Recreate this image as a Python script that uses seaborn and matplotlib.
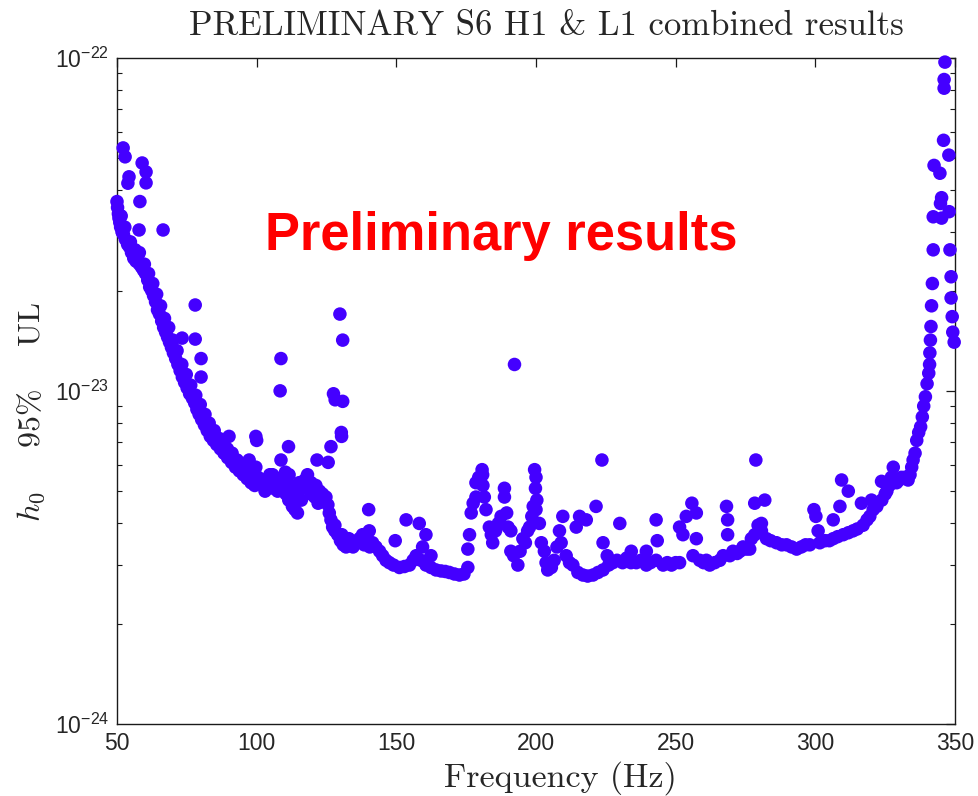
import matplotlib
matplotlib.use("Agg")
import matplotlib.pyplot as plt
import seaborn as sns
import numpy as np
import pandas as pd
from matplotlib.ticker import LogLocator, FixedLocator, NullFormatter

# ---------------- data (frequency in Hz, h0 upper limit in units of 1e-24) ----
band_freq = [
    50.0, 50.2, 50.5, 50.7, 51.0, 51.3, 51.5, 51.8, 52.3, 52.8, 53.0, 53.8, 54.5, 54.8, 55.2,
    56.0, 56.5, 56.8, 57.5, 58.0, 58.0, 58.8, 59.5, 59.8, 60.2, 61.0, 61.3, 61.7, 62.4, 62.8,
    63.1, 63.8, 64.2, 64.5, 65.2, 65.6, 66.0, 66.7, 67.0, 67.4, 68.1, 68.5, 68.8, 69.5, 70.0,
    70.2, 71.0, 71.5, 71.8, 72.6, 73.2, 73.4, 74.2, 74.8, 75.1, 76.0, 76.4, 77.0, 77.8, 78.2,
    78.6, 79.4, 79.8, 80.3, 81.3, 81.5, 82.3, 83.0, 83.4, 84.5, 84.8, 85.7, 86.5, 87.0, 88.0,
    88.3, 89.5, 89.6, 91.0, 91.2, 92.4, 93.0, 93.8, 95.0, 95.2, 96.6, 97.0, 97.3, 98.0, 99.0,
    99.3, 99.7,
    100.5, 101.5, 102.7, 103.0, 103.8, 104.7, 105.7, 106.0, 106.8, 107.5, 108.0, 109.0, 109.2,
    110.3, 110.5, 111.5, 111.6, 112.0, 112.8, 113.0, 113.7, 114.0, 114.6, 115.2, 116.0, 116.5,
    117.2, 118.2, 119.5, 119.5, 120.8, 121.2, 122.0, 122.5, 123.5, 123.6, 124.8, 125.5, 126.0,
    126.6, 127.2, 128.0, 128.0, 129.0, 130.0, 130.5, 131.0, 132.0, 133.0, 133.5, 134.5, 135.5,
    136.8, 137.9, 138.5, 139.0, 140.3, 140.5, 141.5, 142.7, 144.0, 145.1, 146.3, 147.5, 149.0,
    151.1, 152.9, 154.7, 156.0, 157.1, 158.8, 160.6, 162.4, 164.2, 166.0, 167.5, 169.0, 170.8,
    172.6, 174.2, 175.6,
    175.6, 176.2, 176.8, 177.5, 178.5, 178.5, 179.5, 180.7, 180.9, 181.0, 181.5, 182.1, 183.3,
    184.0, 184.5, 185.5, 186.5, 187.5, 188.7, 188.7, 189.5, 190.0, 191.0, 191.0, 192.0, 193.5,
    194.3, 195.3, 196.2, 197.0, 197.7, 198.5, 199.0, 199.5, 200.0, 199.8, 200.3, 200.0, 201.2,
    201.9, 203.0, 203.6, 204.2, 205.5, 206.5, 207.5, 208.4, 209.0, 209.6, 210.8, 212.0, 213.2,
    214.4, 215.6, 215.0, 216.8, 218.0, 218.5, 220.4, 221.5, 222.2, 224.0, 224.0, 225.5, 226.0,
    227.5, 229.0, 230.0, 231.0, 232.5, 234.1, 234.0, 235.9, 237.5, 239.5, 239.5, 241.0, 243.0,
    243.4, 243.0, 245.5, 247.0, 248.5, 250.0, 251.4, 252.6, 251.4, 253.8, 255.8, 257.4, 257.4,
    256.2, 258.6, 260.0, 261.0, 262.2, 264.0, 265.8, 267.0, 268.2, 268.6, 268.6, 269.4, 270.5,
    272.0, 273.0, 274.1, 275.3, 276.5, 277.1, 278.3, 278.3, 279.5, 280.7, 280.7, 281.9, 282.5,
    284.0, 286.1, 288.0, 289.7, 291.5, 293.3, 295.0, 296.5, 298.0, 299.5, 300.2, 301.0, 301.6,
    303.5, 305.0, 306.4, 306.4, 308.0, 308.8, 309.4, 310.0, 311.8, 311.8, 313.5, 315.0, 316.5,
    317.1, 318.5, 319.5, 320.1, 320.7, 322.0, 323.7, 323.8, 325.0, 325.6, 326.5, 327.2, 327.9,
    329.1, 330.0, 330.8, 332.0, 333.2, 333.9, 334.5, 335.0, 335.7, 336.3, 337.0, 337.7, 338.3,
    338.8, 339.4, 340.0, 340.6, 340.9, 341.0, 341.2, 341.4, 341.6, 341.9, 342.2, 342.2,
]
band_h0 = [
    37.0, 35.5, 34.0, 33.0, 32.0, 31.0, 33.5, 30.0, 29.5, 31.0, 28.5, 27.5, 27.0, 28.0, 26.0,
    25.0, 26.5, 24.5, 25.5, 24.0, 26.0, 23.5, 23.0, 24.0, 22.5, 21.5, 22.5, 20.5, 20.0, 21.0,
    19.3, 18.5, 19.5, 17.5, 17.0, 18.0, 16.2, 15.5, 16.5, 15.0, 14.5, 15.5, 14.0, 13.5, 14.2,
    13.0, 12.5, 13.2, 12.0, 11.5, 12.0, 11.0, 10.6, 11.2, 10.2, 9.8, 10.4, 9.5, 9.2, 9.7,
    8.8, 8.5, 9.1, 8.2, 7.9, 8.5, 7.6, 8.0, 7.3, 7.1, 7.6, 6.9, 7.2, 6.7, 6.9,
    6.5, 6.7, 6.3, 6.1, 6.5, 5.9, 6.2, 5.75, 5.9, 5.6, 5.45, 5.7, 6.2, 5.3, 5.6,
    5.2, 5.9,
    5.5, 5.4, 5.3, 5.0, 5.45, 5.6, 5.6, 5.1, 5.4, 5.0, 5.3, 5.15, 5.5,
    5.7, 4.9, 4.7, 5.6, 5.2, 4.5, 4.6, 4.4, 4.9, 4.3, 5.3, 4.7, 5.1,
    5.4, 5.6, 5.3, 4.9, 4.8, 5.2, 4.6, 5.0, 4.7, 4.9, 4.8, 4.55, 4.3,
    4.1, 3.9, 3.8, 3.95, 3.7, 3.55, 3.7, 3.45, 3.4, 3.6, 3.45, 3.4, 3.5,
    3.6, 3.7, 3.45, 3.6, 3.8, 3.4, 3.5, 3.4, 3.3, 3.2, 3.1, 3.05, 3.0,
    2.95, 2.97, 3.0, 3.1, 3.2, 3.1, 3.0, 2.95, 2.9, 2.88, 2.87, 2.85, 2.82,
    2.8, 2.82, 2.95,
    3.35, 3.7, 4.3, 4.6, 4.8, 5.3, 5.5, 5.8, 5.6, 5.2, 4.8, 4.4, 3.9,
    3.7, 3.5, 3.8, 4.0, 4.2, 5.1, 4.8, 4.3, 3.9, 3.8, 3.3, 3.2, 3.0,
    3.3, 3.6, 3.5, 3.8, 3.9, 4.2, 4.5, 5.8, 5.5, 5.1, 4.7, 4.4, 4.0,
    3.5, 3.3, 3.05, 2.9, 2.95, 3.1, 3.4, 3.8, 3.5, 4.2, 3.2, 3.05, 3.0,
    3.9, 4.2, 2.85, 2.8, 4.1, 2.78, 2.8, 4.5, 2.85, 2.9, 3.5, 3.2, 3.0,
    3.05, 3.1, 4.0, 3.05, 3.15, 3.3, 3.05, 3.05, 3.1, 3.3, 3.0, 3.05, 4.1,
    3.55, 3.1, 3.0, 3.05, 3.0, 3.05, 3.9, 3.7, 3.05, 4.2, 4.6, 4.3, 3.6,
    3.2, 3.1, 3.05, 3.1, 3.0, 3.05, 3.1, 3.2, 4.5, 4.1, 3.7, 3.2, 3.3,
    3.25, 3.3, 3.4, 3.35, 3.35, 3.6, 3.7, 4.6, 3.95, 4.0, 3.8, 4.7, 3.6,
    3.55, 3.5, 3.45, 3.45, 3.4, 3.35, 3.4, 3.45, 3.45, 4.4, 4.2, 3.8, 3.5,
    3.55, 3.55, 3.6, 4.1, 3.65, 4.5, 5.4, 3.7, 5.0, 3.75, 3.8, 3.85, 4.6,
    3.95, 4.1, 4.2, 4.7, 4.4, 4.5, 5.35, 4.7, 4.9, 5.0, 5.2, 5.5, 5.9,
    5.3, 5.4, 5.5, 5.5, 5.4, 5.6, 5.9, 6.2, 6.5, 7.1, 7.5, 7.8, 8.35,
    9.0, 9.6, 10.5, 11.3, 12.0, 13.0, 14.2, 15.6, 18.0, 21.0, 26.5, 33.3,
]

spur_freq = [
    52.2, 52.9, 54.3, 53.9, 59.0, 60.4, 60.4, 58.2, 57.9, 66.5, 78.0, 78.0, 73.3, 80.1, 80.1,
    90.1, 99.7, 100.0, 108.7, 108.4, 108.7, 111.4, 121.6, 125.6, 126.6, 127.5, 128.1, 130.8,
    130.3, 130.4, 129.8, 130.8, 140.1, 149.6, 153.5, 158.2, 160.6, 159.4, 162.4, 192.3, 223.6,
    278.7,
    342.5, 344.6, 344.8, 345.2, 345.2, 345.9, 346.1, 346.1, 346.4, 347.8, 347.9, 348.2, 348.6,
    348.6, 349.0, 349.2, 349.7,
]
spur_h0 = [
    53.6, 50.4, 43.9, 42.0, 48.3, 45.4, 42.1, 37.0, 30.4, 30.4, 18.1, 14.3, 14.4, 12.5, 11.0,
    7.3, 7.3, 7.1, 12.5, 10.0, 6.2, 6.8, 6.2, 6.1, 6.8, 9.8, 9.4, 9.3,
    7.5, 7.3, 17.0, 14.2, 4.4, 3.55, 4.1, 4.0, 3.7, 3.4, 3.2, 12.0, 6.2,
    6.2,
    47.5, 45.0, 36.5, 38.0, 33.0, 56.5, 86.0, 81.0, 97.0, 51.0, 34.5, 26.5, 22.0,
    19.0, 16.7, 15.0, 14.0,
]

x_ticks = [50, 100, 150, 200, 250, 300, 350]
y_limits = [1e-24, 1e-22]

title_text = "PRELIMINARY S6 H1 & L1 combined results"
xlabel_text = "Frequency (Hz)"
ylabel_text = r"$h_0$    95%    UL"
stamp_text = "Preliminary results"

# ---------------- table -------------------------------------------------------
df = pd.DataFrame({
    "freq": band_freq + spur_freq,
    "h0": [v * 1e-24 for v in band_h0 + spur_h0],
})

# ---------------- style -------------------------------------------------------
sns.set_style("white")
plt.rcParams["font.family"] = ["Liberation Sans", "DejaVu Sans"]
plt.rcParams["mathtext.fontset"] = "cm"

fig = plt.figure(figsize=(9.79, 7.96), dpi=100)
fig.patch.set_facecolor("white")
ax = fig.add_axes([0.11951, 0.09045, 0.85598, 0.83706])
ax.set_facecolor("white")

sns.scatterplot(data=df, x="freq", y="h0", ax=ax, color="#4400ff", s=95,
                linewidth=0, edgecolor="none", clip_on=False, legend=False, zorder=3)

ax.set_yscale("log")
ax.set_xlim(50, 350)
ax.set_ylim(*y_limits)
ax.xaxis.set_major_locator(FixedLocator(x_ticks))
ax.set_xticklabels([str(t) for t in x_ticks])
ax.yaxis.set_major_locator(LogLocator(base=10, numticks=5))
ax.yaxis.set_minor_locator(LogLocator(base=10, subs=np.arange(2, 10), numticks=20))
ax.yaxis.set_minor_formatter(NullFormatter())

for sp in ax.spines.values():
    sp.set_visible(True)
    sp.set_color("#1a1a1a")
    sp.set_linewidth(1.0)

ax.tick_params(axis="both", which="major", direction="in", length=6.5, width=0.9,
               color="#1a1a1a", top=True, right=True, labelsize=16.5, pad=5.5)
ax.tick_params(axis="y", which="minor", direction="in", length=3.5, width=0.8,
               color="#1a1a1a", left=True, right=True)
ax.tick_params(axis="x", which="minor", bottom=False, top=False)
ax.set_xlabel("")
ax.set_ylabel("")
ax.xaxis.label.set_visible(False)
ax.yaxis.label.set_visible(False)

fig.text(546 / 979, 1 - 35 / 796, title_text, family="cmr10", fontsize=25,
         ha="center", va="baseline")
fig.text(560 / 979, 1 - 787 / 796, xlabel_text, family="cmr10", fontsize=24.5,
         ha="center", va="baseline")
fig.text(31 / 979, 1 - 412 / 796, ylabel_text, family="cmr10", fontsize=23,
         ha="center", va="center", rotation=90)

ax.text((265 - 117) / 838, 1 - (250 - 57.7) / 666.3, stamp_text, transform=ax.transAxes,
        family="Liberation Sans", fontweight="bold", fontsize=37.8, color="#ff0000",
        ha="left", va="baseline")

fig.savefig("out.png", dpi=100, facecolor="white")
